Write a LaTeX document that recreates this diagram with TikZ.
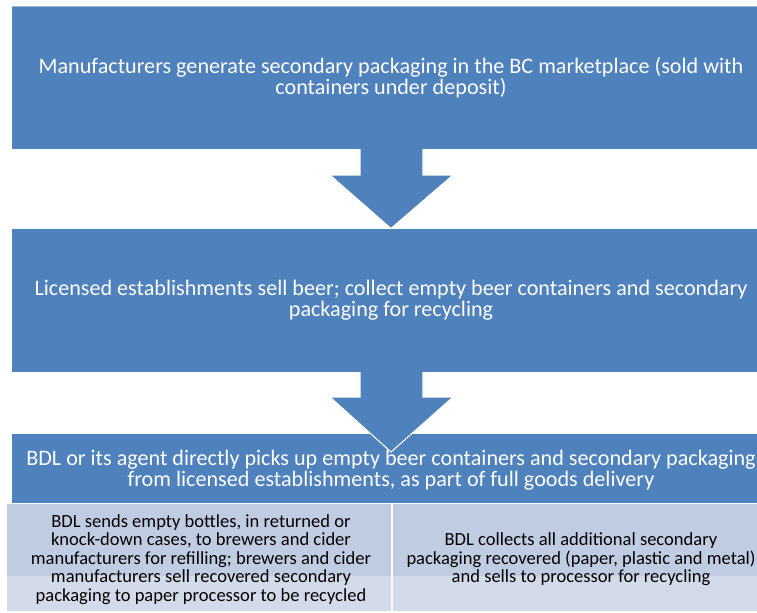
\documentclass[tikz,border=0pt]{standalone}
\usepackage{fontspec}
\setmainfont{Carlito}
\definecolor{boxblue}{RGB}{79,129,189}
\definecolor{celldark}{RGB}{192,204,226}
\definecolor{celllight}{RGB}{211,218,234}
\definecolor{topline}{RGB}{160,185,218}
\tikzset{
  boxtext/.style={text=white, align=center, inner sep=0pt, font=\fontsize{16.6}{15.8}\selectfont},
  celltext/.style={text=black, align=center, inner sep=0pt, font=\fontsize{13.9}{13.9}\selectfont},
  bigarrow/.style={fill=boxblue, draw=none},
  arrowedge/.style={draw=white, line width=0.8pt, line join=miter}
}
\begin{document}
\begin{tikzpicture}[x=0.75pt, y=-0.75pt]
\useasboundingbox (0,0) rectangle (757,612);
\begin{scope}
\clip (0,0) rectangle (757,612);
% box 1
\path[fill=boxblue] (12,6) rectangle (770,149);
\draw[topline, line width=0.6pt] (12,6.3) -- (770,6.3);
\node[boxtext] (t1) at (391,78) {Manufacturers generate secondary packaging in the BC marketplace (sold with\\containers under deposit)};
% box 2
\path[fill=boxblue] (12,229) rectangle (770,372);
\node[boxtext] (t2) at (391,300.5) {Licensed establishments sell beer; collect empty beer containers and secondary\\packaging for recycling};
% arrow 1
\path[bigarrow] (360,149) -- (360,175) -- (330,175) -- (391,228.5) -- (453,175) -- (423,175) -- (423,149) -- cycle;
\draw[arrowedge] (360,149) -- (360,175) -- (330,175) -- (391,228.5) -- (453,175) -- (423,175) -- (423,149);
% box 3
\path[fill=boxblue] (12,434) rectangle (770,503);
% arrow 2
\path[bigarrow] (360,372) -- (360,397) -- (330,397) -- (391,452) -- (453,397) -- (423,397) -- (423,372) -- cycle;
\draw[arrowedge] (360,372) -- (360,397) -- (330,397) -- (391,452) -- (453,397) -- (423,397) -- (423,372);
\node[boxtext] (t3) at (391,470.5) {BDL or its agent directly picks up empty beer containers and secondary packaging\\from licensed establishments, as part of full goods delivery};
% bottom cells
\path[fill=celldark] (7,504) rectangle (391,576);
\path[fill=celllight] (7,576) rectangle (391,611);
\path[fill=celldark] (393,504) rectangle (770,576);
\path[fill=celllight] (393,576) rectangle (770,611);
\node[celltext] (c1) at (201,559.5) {BDL sends empty bottles, in returned or\\knock-down cases, to brewers and cider\\manufacturers for refilling; brewers and cider\\manufacturers sell recovered secondary\\packaging to paper processor to be recycled};
\node[celltext] (c2) at (581,559.5) {BDL collects all additional secondary\\packaging recovered (paper, plastic and metal)\\and sells to processor for recycling};
\end{scope}
\end{tikzpicture}
\end{document}
